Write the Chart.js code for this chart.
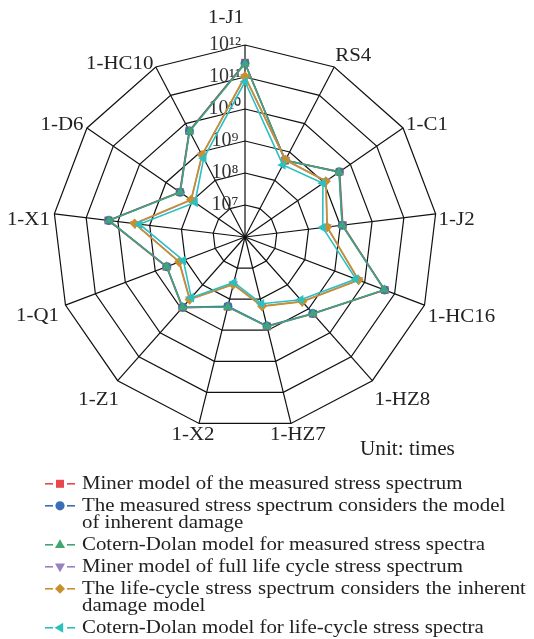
<!DOCTYPE html>
<html>
<head>
<meta charset="utf-8">
<script src="https://cdn.jsdelivr.net/npm/chart.js@4.4.1/dist/chart.umd.min.js"></script>
<style>
html,body{margin:0;padding:0;background:#fff;}
#wrap{position:relative;width:534px;height:639px;overflow:hidden;font-family:'Liberation Serif','Times New Roman',serif;color:#222;}
#c{position:absolute;left:0;top:0;}
#unit{position:absolute;left:360px;top:438px;font-size:20px;line-height:20px;white-space:nowrap;transform:scaleX(1.06);transform-origin:left center;}
#legend{position:absolute;left:0;top:475px;width:534px;}
.item{position:relative;margin-bottom:5px;}
.item svg{position:absolute;left:44px;top:0;}
.item .txt{margin-left:82px;font-size:18px;line-height:17px;white-space:pre;transform:scaleX(1.16);transform-origin:left top;}
.item .txt.wide{word-spacing:0.8px;}
</style>
</head>
<body>
<div id="wrap">
  <canvas id="c" width="534" height="639"></canvas>
  <div id="unit">Unit: times</div>
  <div id="legend"></div>
</div>
<script>
// ---------- data ----------
const categories = ['1-J1','RS4','1-C1','1-J2','1-HC16','1-HZ8','1-HZ7','1-X2','1-Z1','1-Q1','1-X1','1-D6','1-HC10'];
const tickLabels = ['10\u2077','10\u2078','10\u2079','10\u00B9\u2070','10\u00B9\u00B9','10\u00B9\u00B2'];

const minerMeasured      = [2.8e11, 5.0e8, 3.9e9, 1.2e9, 4.7e10, 1.6e9, 7.6e8, 1.75e8, 8.9e8, 4.2e8, 2.0e10, 3.0e8, 5.6e9];
const inherentMeasured   = [2.7e11, 5.1e8, 3.8e9, 1.15e9, 4.6e10, 1.55e9, 7.3e8, 1.7e8, 8.6e8, 4.1e8, 1.95e10, 2.9e8, 5.5e9];
const cortenMeasured     = [2.6e11, 5.1e8, 3.7e9, 1.15e9, 4.5e10, 1.6e9, 7.6e8, 1.8e8, 8.8e8, 4.1e8, 1.9e10, 2.9e8, 5.3e9];
const minerLifeCycle     = [1.0e11, 5.2e8, 1.2e9, 3.8e8, 6.2e9, 4.9e8, 1.66e8, 3.3e7, 4.0e8, 1.55e8, 2.9e9, 1.1e8, 7.7e8];
const inherentLifeCycle  = [1.05e11, 5.3e8, 1.17e9, 3.9e8, 6.3e9, 5.0e8, 1.7e8, 3.4e7, 4.1e8, 1.6e8, 3.0e9, 1.12e8, 7.8e8];
const cortenLifeCycle    = [7.1e10, 3.5e8, 9.1e8, 2.8e8, 5.1e9, 4.2e8, 1.4e8, 2.9e7, 3.4e8, 1.15e8, 2.1e9, 7.9e7, 6.0e8];

const seriesNames = [
  'Miner model of the measured stress spectrum',
  'The measured stress spectrum considers the model\nof inherent damage',
  'Cotern-Dolan model for measured stress spectra',
  'Miner model of full life cycle stress spectrum',
  'The life-cycle stress spectrum considers the inherent\ndamage model',
  'Cotern-Dolan model for life-cycle stress spectra'
];
const seriesValues = [minerMeasured, inherentMeasured, cortenMeasured, minerLifeCycle, inherentLifeCycle, cortenLifeCycle];

// ---------- styles ----------
const seriesColors = ['#e8474d','#3a6fb8','#43a574','#9a80c3','#c8902c','#2dbfbf'];
const seriesPoint  = [
  {style:'rect', rot:0, r:5.5},
  {style:'circle', rot:0, r:4.5},
  {style:'triangle', rot:0, r:5.5},
  {style:'triangle', rot:180, r:5.5},
  {style:'rectRot', rot:0, r:5},
  {style:'triangle', rot:270, r:5.5}
];
const drawOrder = [6,5,4,3,2,1];
// label nudges relative to outer vertex (px)
const labelNudge = [[-19,-27],[19,-11],[24,-3],[21,6],[37,12],[30,19],[7,12],[-6,12],[-19,19],[-28,11],[-26,6],[-25,-3],[-36,-3]];
const FONT = "'Liberation Serif','Times New Roman',serif";

const datasets = seriesValues.map((vals, k) => ({
  label: seriesNames[k].replace('\n',' '),
  data: vals.map(v => Math.log10(v)),
  borderColor: seriesColors[k],
  backgroundColor: seriesColors[k],
  pointBackgroundColor: seriesColors[k],
  pointBorderColor: seriesColors[k],
  pointBorderWidth: 0,
  pointStyle: seriesPoint[k].style,
  pointRotation: seriesPoint[k].rot,
  pointRadius: seriesPoint[k].r,
  borderWidth: 1.6,
  fill: false,
  order: drawOrder[k]
}));

const labelPlugin = {
  id: 'catLabels',
  afterDraw(chart) {
    const s = chart.scales.r, ctx = chart.ctx;
    ctx.save();
    ctx.fillStyle = '#222';
    ctx.textAlign = 'center';
    ctx.textBaseline = 'middle';
    ctx.font = '19px ' + FONT;
    categories.forEach((lab, i) => {
      const p = s.getPointPosition(i, s.drawingArea);
      ctx.save();
      ctx.translate(p.x + labelNudge[i][0], p.y + labelNudge[i][1]);
      ctx.scale(1.1, 1);
      ctx.fillText(lab, 0, 0);
      ctx.restore();
    });
    ctx.restore();
  }
};

new Chart(document.getElementById('c'), {
  type: 'radar',
  data: { labels: categories, datasets },
  options: {
    responsive: false,
    devicePixelRatio: 1,
    animation: false,
    layout: { padding: { left: 41, top: 33, right: 85, bottom: 198 } },
    plugins: { legend: { display: false }, tooltip: { enabled: false } },
    elements: { line: { tension: 0 } },
    scales: {
      r: {
        min: 6, max: 12,
        ticks: {
          stepSize: 1,
          showLabelBackdrop: false,
          color: '#333',
          font: { family: FONT, size: 20 },
          callback: v => (v >= 7 ? tickLabels[v - 7] + '        ' : '')
        },
        pointLabels: { display: false },
        grid: { color: '#111', lineWidth: 1.2 },
        angleLines: { color: '#111', lineWidth: 1.2 }
      }
    }
  },
  plugins: [labelPlugin]
});

// ---------- HTML legend ----------
const markerSvg = (k) => {
  const c = seriesColors[k];
  let m = '';
  switch (k) {
    case 0: m = `<rect x="12" y="4.8" width="8" height="8" fill="${c}"/>`; break;
    case 1: m = `<circle cx="16" cy="8.8" r="4.6" fill="${c}"/>`; break;
    case 2: m = `<polygon points="16,3.3 21,12 11,12" fill="${c}"/>`; break;
    case 3: m = `<polygon points="16,14.3 21,5.6 11,5.6" fill="${c}"/>`; break;
    case 4: m = `<polygon points="16,3.8 21,8.8 16,13.8 11,8.8" fill="${c}"/>`; break;
    case 5: m = `<polygon points="10.5,8.8 19.2,3.8 19.2,13.8" fill="${c}"/>`; break;
  }
  return `<svg width="32" height="18" viewBox="0 0 32 18"><line x1="1" y1="8.8" x2="9" y2="8.8" stroke="${c}" stroke-width="1.6"/><line x1="23" y1="8.8" x2="31" y2="8.8" stroke="${c}" stroke-width="1.6"/>${m}</svg>`;
};
const legend = document.getElementById('legend');
seriesNames.forEach((name, k) => {
  const d = document.createElement('div');
  d.className = 'item';
  d.innerHTML = markerSvg(k);
  const t = document.createElement('div');
  t.className = 'txt' + (k === 4 ? ' wide' : '');
  t.textContent = name;
  d.appendChild(t);
  legend.appendChild(d);
});
</script>
</body>
</html>
